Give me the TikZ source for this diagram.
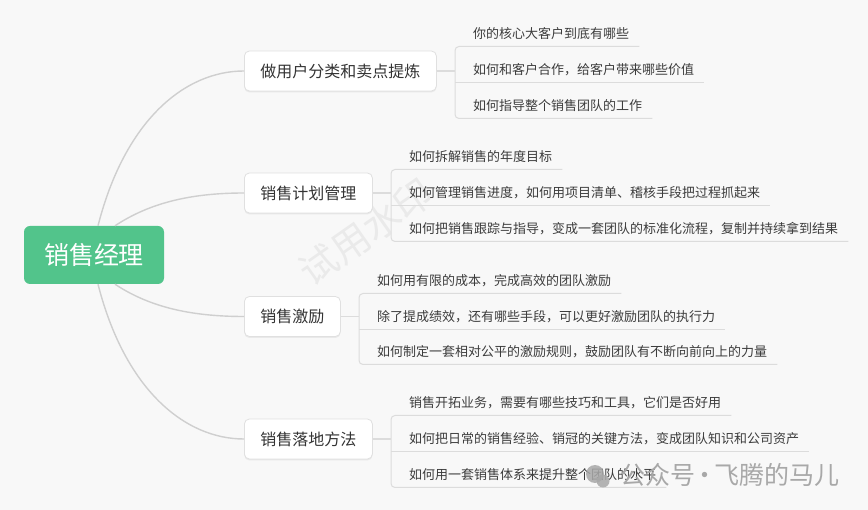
\documentclass[tikz,border=0pt]{standalone}
\usepackage{fontspec}
\setmainfont{Noto Sans CJK SC}
\usetikzlibrary{shadows,calc}
\definecolor{bgc}{HTML}{F8F8F8}
\definecolor{rootgreen}{HTML}{52C48B}
\definecolor{curvec}{HTML}{CFCFCF}
\definecolor{brc}{HTML}{DCDCDC}
\definecolor{boxline}{HTML}{E0E0E0}
\definecolor{textdark}{HTML}{333333}
\definecolor{leaftext}{HTML}{3C3C3C}
\definecolor{wmlight}{HTML}{EAEAEA}
\definecolor{wmgray}{HTML}{A8A8A8}
\tikzset{
  rootbox/.style={fill=rootgreen, rounded corners=6pt, minimum width=140pt, minimum height=58pt,
    inner sep=0pt, text=white, font=\fontsize{25}{25}\selectfont},
  midbox/.style={fill=white, draw=boxline, line width=0.8pt, rounded corners=5pt, minimum height=40pt,
    inner xsep=16pt, inner ysep=0pt, text=textdark, font=\fontsize{16}{16}\selectfont,
    drop shadow={shadow xshift=0pt, shadow yshift=-1.5pt, opacity=0.12}},
  leaf/.style={anchor=west, inner sep=0pt, text=leaftext, font=\fontsize{13}{13}\selectfont},
  curve/.style={draw=curvec, line width=1.4pt},
  conn/.style={draw=brc, line width=1.2pt},
  brline/.style={draw=brc, line width=1pt},
}
\begin{document}
\begin{tikzpicture}[x=1pt,y=-1pt]
\fill[bgc] (0,0) rectangle (868,510);
\useasboundingbox (0,0) rectangle (868,510);

% watermark
\node[text=wmlight, rotate=35, font=\fontsize{38}{38}\selectfont, inner sep=0pt] (wm) at (366,232) {试用水印};

% root
\node[rootbox] (root) at (94,255) {销售经理};

% main topics
\node[midbox, anchor=west] (n1) at (244,71) {做用户分类和卖点提炼};
\node[midbox, anchor=west] (n2) at (244,193) {销售计划管理};
\node[midbox, anchor=west] (n3) at (244,316.5) {销售激励};
\node[midbox, anchor=west] (n4) at (244,439) {销售落地方法};

% curves
\draw[curve] ([xshift=4pt]root.north) .. controls (125,120) and (185,71) .. (n1.west);
\draw[curve] ([xshift=21pt]root.north) .. controls (148,204) and (188,193) .. (n2.west);
\draw[curve] ([xshift=21pt]root.south) .. controls (148,306) and (188,316.5) .. (n3.west);
\draw[curve] ([xshift=4pt]root.south) .. controls (125,390) and (185,439) .. (n4.west);

% group 1
\node[leaf] (l11) at (473,34) {你的核心大客户到底有哪些};
\node[leaf] (l12) at (473,70) {如何和客户合作，给客户带来哪些价值};
\node[leaf] (l13) at (473,106) {如何指导整个销售团队的工作};
\coordinate (j1) at (455,71);
\coordinate (u11) at ($(l11.east)+(10,12.5)$);
\coordinate (u12) at ($(l12.east)+(10,12.5)$);
\coordinate (u13) at ($(l13.east)+(10,12.5)$);
\draw[conn] (n1.east) -- (j1);
\draw[brline, rounded corners=4pt] (u11) -| (j1) |- (u13);
\draw[brline] (j1 |- u12) -- (u12);

% group 2
\node[leaf] (l21) at (409,157) {如何拆解销售的年度目标};
\node[leaf] (l22) at (409,193) {如何管理销售进度，如何用项目清单、稽核手段把过程抓起来};
\node[leaf] (l23) at (409,229) {如何把销售跟踪与指导，变成一套团队的标准化流程，复制并持续拿到结果};
\coordinate (j2) at (391,193);
\coordinate (u21) at ($(l21.east)+(10,12.5)$);
\coordinate (u22) at ($(l22.east)+(10,12.5)$);
\coordinate (u23) at ($(l23.east)+(10,12.5)$);
\draw[conn] (n2.east) -- (j2);
\draw[brline, rounded corners=4pt] (u21) -| (j2) |- (u23);
\draw[brline] (j2 |- u22) -- (u22);

% group 3
\node[leaf] (l31) at (377,281) {如何用有限的成本，完成高效的团队激励};
\node[leaf] (l32) at (377,317) {除了提成绩效，还有哪些手段，可以更好激励团队的执行力};
\node[leaf] (l33) at (377,352) {如何制定一套相对公平的激励规则，鼓励团队有不断向前向上的力量};
\coordinate (j3) at (359,316.5);
\coordinate (u31) at ($(l31.east)+(10,12.5)$);
\coordinate (u32) at ($(l32.east)+(10,12.5)$);
\coordinate (u33) at ($(l33.east)+(10,12.5)$);
\draw[conn] (n3.east) -- (j3);
\draw[brline, rounded corners=4pt] (u31) -| (j3) |- (u33);
\draw[brline] (j3 |- u32) -- (u32);

% group 4
\node[leaf] (l41) at (409,403) {销售开拓业务，需要有哪些技巧和工具，它们是否好用};
\node[leaf] (l42) at (409,439) {如何把日常的销售经验、销冠的关键方法，变成团队知识和公司资产};
\node[leaf] (l43) at (409,475) {如何用一套销售体系来提升整个团队的水平};
\coordinate (j4) at (391,439);
\coordinate (u41) at ($(l41.east)+(10,12.5)$);
\coordinate (u42) at ($(l42.east)+(10,12.5)$);
\coordinate (u43) at ($(l43.east)+(10,12.5)$);
\draw[conn] (n4.east) -- (j4);
\draw[brline, rounded corners=4pt] (u41) -| (j4) |- (u43);
\draw[brline] (j4 |- u42) -- (u42);

% bottom watermark
\fill[wmgray, opacity=0.85] (595,474) circle (9pt);
\fill[wmgray, opacity=0.85] (603,481) circle (6.5pt);
\node[anchor=west, inner sep=0pt, text=wmgray, font=\fontsize{25}{25}\selectfont] (wm2) at (620,475) {公众号\hspace{-3pt}·\hspace{-3pt}飞腾的马儿};
\end{tikzpicture}
\end{document}
